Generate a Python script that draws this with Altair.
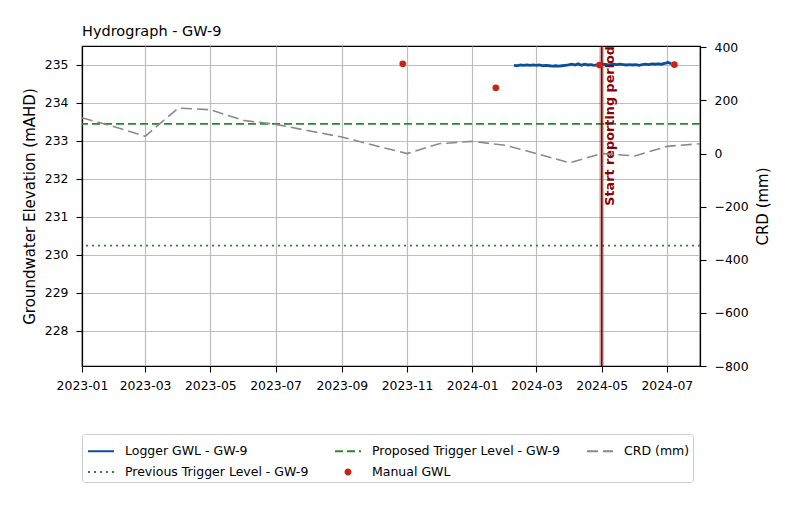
import altair as alt
import pandas as pd

# ---------------- data ----------------
SERIES = ["Logger GWL - GW-9", "Proposed Trigger Level - GW-9", "CRD (mm)",
          "Previous Trigger Level - GW-9", "Manual GWL"]
COLORS = ["#0b4f9a", "#2a8a2a", "#8a8a8a", "#2a8a2a", "#cc2211"]
DASHES = [[1, 0], [8, 4], [11, 5], [2, 4], [1, 0]]
SMALL_DOT = "M0.19,0A0.19,0.19 0 1,1 -0.19,0A0.19,0.19 0 1,1 0.19,0Z"
SHAPES = ["stroke", "stroke", "stroke", "stroke", SMALL_DOT]

crd_dates = ["2023-01-01", "2023-02-01", "2023-03-01", "2023-04-01", "2023-05-01",
             "2023-06-01", "2023-07-01", "2023-08-01", "2023-09-01", "2023-10-01",
             "2023-11-01", "2023-12-01", "2024-01-01", "2024-02-01", "2024-03-01",
             "2024-04-01", "2024-05-01", "2024-06-01", "2024-07-01", "2024-08-01"]
crd_values = [135, 100, 65, 171, 165, 125, 110, 86, 62, 31, 0, 37, 46, 31, 0,
              -35, 0, -9, 27, 37]

manual_dates = ["2023-10-28", "2024-01-23", "2024-04-29", "2024-07-08"]
manual_values = [235.03, 234.40, 235.00, 235.01]

logger_start = "2024-02-09"
logger_values = [
    234.99, 234.98, 235.00, 234.99, 235.00, 234.99, 235.00,
    234.99, 235.00, 234.98, 234.99, 234.98, 234.97, 234.98, 234.97, 234.98, 234.99,
    235.00, 235.02, 235.00, 235.03, 234.99, 235.02, 235.00, 235.01, 234.99, 235.00,
    235.01, 235.02, 235.01, 235.00, 235.02, 235.01, 235.02, 235.01, 235.00, 235.01,
    235.00, 235.01, 234.99, 235.01, 235.02, 235.01, 235.03, 235.02, 235.03, 235.02,
    235.04, 235.07, 235.03,
]

trigger_names = ["Proposed Trigger Level - GW-9", "Previous Trigger Level - GW-9"]
trigger_values = [233.45, 230.24]

report_start = "2024-05-01"
report_label = "Start reporting period"

left_ticks = [228, 229, 230, 231, 232, 233, 234, 235]
right_ticks = [-800, -600, -400, -200, 0, 200, 400]

# ---------------- tables ----------------
crd_df = pd.DataFrame({"date": pd.to_datetime(crd_dates), "crd": crd_values,
                       "series": "CRD (mm)"})
man_df = pd.DataFrame({"date": pd.to_datetime(manual_dates), "gwl": manual_values,
                       "series": "Manual GWL"})
log_df = pd.DataFrame({"date": pd.date_range(logger_start, periods=len(logger_values), freq="3D"),
                       "gwl": logger_values, "series": "Logger GWL - GW-9"})
trig_df = pd.DataFrame({"gwl": trigger_values, "series": trigger_names})
rep_df = pd.DataFrame({"date": pd.to_datetime([report_start]), "label": [report_label]})
leg_df = pd.DataFrame({"series": SERIES})

FONT = "DejaVu Sans"

color_scale = alt.Scale(domain=SERIES, range=COLORS)
dash_scale = alt.Scale(domain=SERIES, range=DASHES)

x_enc = alt.X(
    "date:T",
    scale=alt.Scale(domain=[alt.DateTime(year=2023, month=1, date=1),
                            alt.DateTime(year=2024, month=8, date=1)], nice=False),
    axis=alt.Axis(title=None, format="%Y-%m", tickCount={"interval": "month", "step": 2},
                  grid=True, labelPadding=7, labelFlush=False, labelOverlap=False),
)
yl_enc = alt.Y(
    "gwl:Q",
    scale=alt.Scale(domain=[227.07, 235.5], nice=False, zero=False),
    axis=alt.Axis(title="Groundwater Elevation (mAHD)", values=left_ticks, grid=True,
                  labelPadding=8, titleAngle=270, titleX=-53, titleY=160,
                  titleAlign="center", titleBaseline="middle"),
)
yr_enc = alt.Y(
    "crd:Q",
    scale=alt.Scale(domain=[-800, 405], nice=False, zero=False),
    axis=alt.Axis(title="CRD (mm)", orient="right", values=right_ticks, grid=False,
                  labelPadding=8, titleAngle=270, titleX=62, titleY=160,
                  titleAlign="center", titleBaseline="middle"),
)
col_enc = alt.Color("series:N", scale=color_scale)
dash_enc = alt.StrokeDash("series:N", scale=dash_scale)

# legend proxy layer (draws no marks, only defines the combined legend)
legend_layer = alt.Chart(leg_df).mark_point(filled=True, opacity=1).encode(
    color=alt.Color("series:N", scale=color_scale, legend=alt.Legend(
        title=None, orient="none", legendX=0, legendY=388, columns=3,
        direction="horizontal", gridAlign="each", columnPadding=22, rowPadding=-7,
        labelFontSize=12.5, labelFont=FONT, labelLimit=400,
        labelColor="black", labelOffset=10, padding=3, symbolOffset=2,
        symbolSize=676, strokeColor="#cccccc", fillColor="white", cornerRadius=3,
        symbolStrokeWidth=2, symbolOpacity=1)),
    stroke=alt.Stroke("series:N", scale=alt.Scale(domain=SERIES, range=COLORS),
                      legend=alt.Legend(title=None)),
    shape=alt.Shape("series:N", scale=alt.Scale(domain=SERIES, range=SHAPES),
                    legend=alt.Legend(title=None)),
    strokeDash=alt.StrokeDash("series:N", scale=dash_scale, legend=alt.Legend(title=None)),
).transform_filter("false")

triggers = alt.Chart(trig_df).mark_rule(strokeWidth=1.8).encode(
    y=yl_enc, color=col_enc, strokeDash=dash_enc)

logger = alt.Chart(log_df).mark_line(strokeWidth=2.8).encode(
    x=x_enc, y=yl_enc, color=col_enc)

manual = alt.Chart(man_df).mark_circle(size=45, opacity=1).encode(
    x=x_enc, y=yl_enc, color=col_enc)

band = alt.Chart(rep_df).mark_rule(strokeWidth=5, color="#8b0000", opacity=0.25).encode(x=x_enc)
vline = alt.Chart(rep_df).mark_rule(strokeWidth=1.6, color="#8b0000").encode(x=x_enc)
vtext = alt.Chart(rep_df).mark_text(
    angle=270, align="right", baseline="top", dy=2, fontWeight="bold",
    fontSize=12.8, font=FONT, color="#8b0000").encode(
    x=x_enc, y=alt.value(0), text="label:N")

left = alt.layer(legend_layer, triggers, logger, band, vline, vtext, manual)

crd = alt.Chart(crd_df).mark_line(strokeWidth=1.6).encode(
    x=x_enc, y=yr_enc, color=col_enc, strokeDash=dash_enc)

chart = alt.layer(left, crd).resolve_scale(y="independent").properties(
    width=618, height=320,
    padding={"left": 74, "top": 38, "right": 80, "bottom": 146},
    autosize=alt.AutoSizeParams(type="none"),
    title=alt.TitleParams("Hydrograph - GW-9", anchor="start", fontSize=14.5,
                          fontWeight="normal", font=FONT, color="black",
                          frame="group", offset=10, dy=19, baseline="alphabetic"),
).configure_view(stroke="black", strokeWidth=1.2).configure_axis(
    labelFont=FONT, titleFont=FONT, labelFontSize=12.4, titleFontSize=15,
    titleFontWeight="normal", labelColor="black", titleColor="black",
    domainColor="black", domainWidth=1.2, tickColor="black", tickSize=6,
    tickWidth=1.1, gridColor="#bdbdbd", gridWidth=1.2,
)

chart.save("out.html", embed_options={"renderer": "svg", "actions": False})
